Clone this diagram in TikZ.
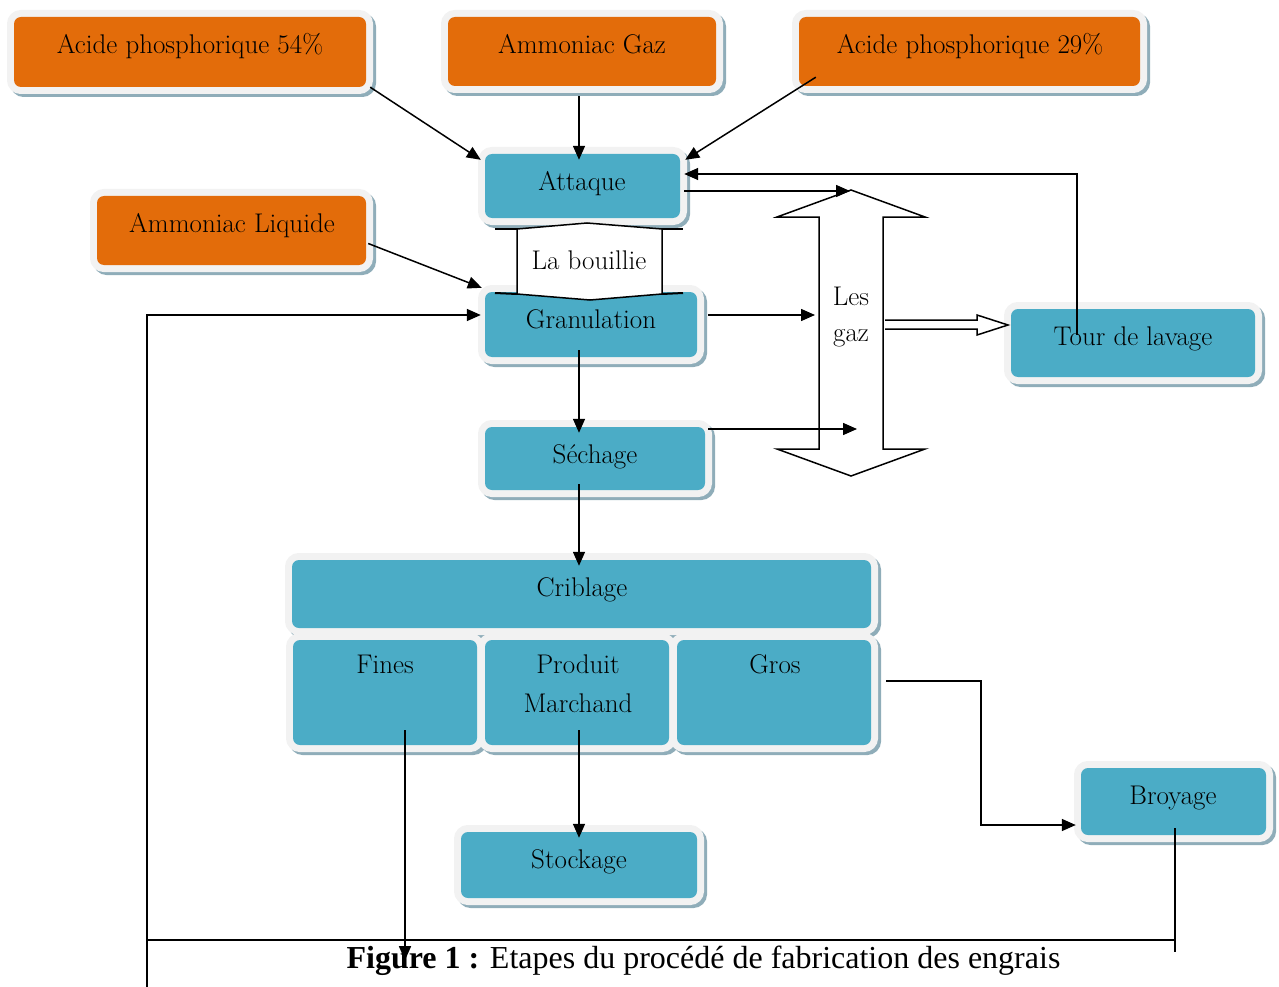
\documentclass[tikz,border=0pt]{standalone}
\usepackage{fontspec}
\newfontfamily\capfont{Liberation Serif}
\usetikzlibrary{arrows.meta,shadows,calc}
\definecolor{orangefill}{HTML}{E36C0A}
\definecolor{bluefill}{HTML}{4BACC6}
\definecolor{framegray}{HTML}{F2F2F2}
\definecolor{shadowcol}{HTML}{8FADB9}
\tikzset{
  procbox/.style={rectangle, rounded corners=7pt, inner sep=0pt,
    general shadow={fill=shadowcol, draw=shadowcol, line width=14pt, shadow xshift=3pt, shadow yshift=-3pt},
    preaction={draw=framegray, line width=14pt}},
  orangebox/.style={procbox, fill=orangefill},
  bluebox/.style={procbox, fill=bluefill},
  lbl/.style={font=\fontsize{27}{31}\selectfont, anchor=base, inner sep=0pt},
  arr/.style={draw, line width=1.5pt, -{Triangle[length=14pt,width=12pt]}},
  ln/.style={draw, line width=1.5pt},
  outlinearrow/.style={draw, line width=1.5pt, fill=white, line join=miter},
}
\begin{document}
\begin{tikzpicture}[x=1pt,y=-1pt]
\useasboundingbox (0,0) rectangle (1279,987);
% boxes
\node[orangebox, minimum width=352pt, minimum height=70pt] (a54) at (190,52) {};
\node[orangebox, minimum width=268pt, minimum height=69pt] (agaz) at (582,51.5) {};
\node[orangebox, minimum width=341pt, minimum height=69pt] (a29) at (969.5,51.5) {};
\node[bluebox, minimum width=195pt, minimum height=64pt] (att) at (582.5,186) {};
\node[orangebox, minimum width=269pt, minimum height=69pt] (aliq) at (231.5,230.5) {};
\node[bluebox, minimum width=212pt, minimum height=65pt] (gran) at (591,324.5) {};
\node[bluebox, minimum width=220pt, minimum height=63pt] (sech) at (595,458.5) {};
\node[bluebox, minimum width=244pt, minimum height=68pt] (tour) at (1133,343) {};
\node[bluebox, minimum width=579pt, minimum height=68pt] (crib) at (581.5,594) {};
\node[bluebox, minimum width=184pt, minimum height=105pt] (fines) at (385,692.5) {};
\node[bluebox, minimum width=184pt, minimum height=105pt] (prod) at (577,692.5) {};
\node[bluebox, minimum width=194pt, minimum height=105pt] (gros) at (774,692.5) {};
\node[bluebox, minimum width=236pt, minimum height=66pt] (stock) at (579,865) {};
\node[bluebox, minimum width=185pt, minimum height=67pt] (broy) at (1173.5,801.5) {};
% la bouillie connector shape
\draw[line width=1.5pt, fill=white, line join=miter] (517,229) -- (587,223) -- (662,229) -- (662,294) -- (590,300) -- (517,294) -- cycle;
\draw[line width=2pt] (495,229) -- (517,229) (662,229) -- (683,229);
\draw[line width=2pt] (495,293) -- (517,294) (662,294) -- (683,293);
% les gaz double arrow
\draw[outlinearrow] (851,190) -- (925,217) -- (883,217) -- (883,449) -- (925,449) -- (851,476) -- (777,449) -- (819,449) -- (819,217) -- (777,217) -- cycle;
\draw[outlinearrow] (885,320) -- (977,320) -- (977,315) -- (1008,325) -- (977,335) -- (977,329) -- (885,329);
% texts
\node[lbl] (t54) at (190,54) {Acide phosphorique 54\%};
\node[lbl] (tgaz) at (582,54) {Ammoniac Gaz};
\node[lbl] (t29) at (970,54) {Acide phosphorique 29\%};
\node[lbl] (tatt) at (582,190) {Attaque};
\node[lbl] (tliq) at (232,232) {Ammoniac Liquide};
\node[lbl] (tbou) at (589,269) {La bouillie};
\node[lbl] (tgran) at (591,328) {Granulation};
\node[lbl] (tsech) at (595,463) {Séchage};
\node[lbl] (tles) at (851,305) {Les};
\node[lbl] (tgz) at (851,341) {gaz};
\node[lbl] (ttour) at (1133,345) {Tour de lavage};
\node[lbl] (tcrib) at (582,596) {Criblage};
\node[lbl] (tfin) at (385,673) {Fines};
\node[lbl] (tprod) at (578,673) {Produit};
\node[lbl] (tmar) at (578,712) {Marchand};
\node[lbl] (tgros) at (775,673) {Gros};
\node[lbl] (tstock) at (579,868) {Stockage};
\node[lbl] (tbroy) at (1173,804) {Broyage};
\node[font=\capfont\fontsize{32}{36}\selectfont, anchor=base, inner sep=0pt] (cap) at (703.5,968) {\textbf{Figure 1 :} Etapes du procédé de fabrication des engrais};
% helper coordinates
\coordinate (colx) at (579,0);
\coordinate (gin1) at (850,191);
\coordinate (gin2) at (815,315);
\coordinate (gin3) at (857,429);
\coordinate (gmid) at (981,750);
\coordinate (rx) at (147,940);
\coordinate (rbot) at (147,987);
\coordinate (bline) at ([xshift=1.5pt,yshift=7pt]broy.south);
% connectors
\draw[arr] ([xshift=4pt]a54.south east) -- ([xshift=-4pt,yshift=-6pt]att.north west);
\draw[arr] ($(agaz.south -| colx)+(0,10)$) -- ($(att.north -| colx)+(0,6)$);
\draw[arr] ([xshift=17pt,yshift=9pt]a29.south west) -- ([xshift=5pt,yshift=-6pt]att.north east);
\draw[arr] ([xshift=2pt,yshift=-13pt]aliq.east) -- ([xshift=-3pt,yshift=4pt]gran.north west);
\draw[arr] ([xshift=66pt,yshift=-26pt]tour.north west) |- ([xshift=4pt,yshift=12pt]att.east);
\draw[arr] ([xshift=4pt,yshift=-5pt]att.east) -- (gin1);
\draw[arr] ([xshift=11pt,yshift=9.5pt]gran.east) -- (gin2);
\draw[arr] ([xshift=3pt,yshift=29.5pt]sech.east) -- (gin3);
\draw[arr] ($(gran.south -| colx)+(0,-7)$) -- ($(sech.north -| colx)+(0,6)$);
\draw[arr] ($(sech.south -| colx)+(0,-6)$) -- ($(crib.north -| colx)+(0,6)$);
\draw[arr] ($(prod.south -| colx)+(0,-15)$) -- ($(stock.north -| colx)+(0,6)$);
\draw[arr] ([xshift=15pt,yshift=11.5pt]gros.east) -| (gmid) |- ([xshift=-5pt,yshift=-23.5pt]broy.west);
\draw[ln] (bline) -- ++(0,124);
\draw[ln] (rx) -- (rx -| bline);
\draw[arr] (rbot) |- ([xshift=-4pt,yshift=9.5pt]gran.west);
\draw[arr] ([xshift=20pt,yshift=15pt]fines.south) -- ++(0,230);
\end{tikzpicture}
\end{document}
